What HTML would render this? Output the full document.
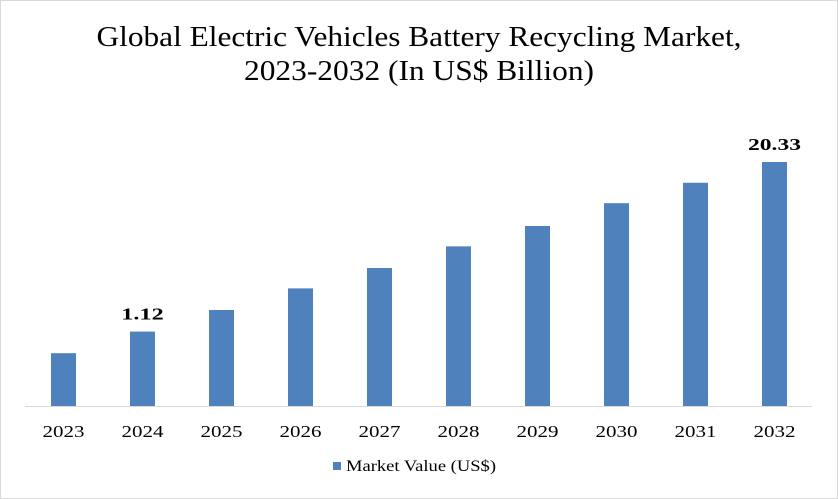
<!DOCTYPE html>
<html><head><meta charset="utf-8"><style>
html,body{margin:0;padding:0;background:#fff}
svg{display:block}
</style></head><body>
<svg width="838" height="499" viewBox="0 0 838 499" xmlns="http://www.w3.org/2000/svg">
<rect x="0.5" y="0.5" width="837" height="498" fill="#fff" stroke="#d9d9d9"/>
<text x="419" y="46" text-anchor="middle" font-family="Liberation Serif, serif" font-size="28" fill="#000" textLength="645" lengthAdjust="spacingAndGlyphs">Global Electric Vehicles Battery Recycling Market,</text>
<text x="419" y="80" text-anchor="middle" font-family="Liberation Serif, serif" font-size="28" fill="#000" textLength="350" lengthAdjust="spacingAndGlyphs">2023-2032 (In US$ Billion)</text>
<line x1="25" y1="406.5" x2="812" y2="406.5" stroke="#d9d9d9" stroke-width="1"/>
<g id="bars"></g>
<rect x="333" y="462" width="8" height="8" fill="#4f81bd"/>
<text x="346" y="471" font-family="Liberation Serif, serif" font-size="16" fill="#000" textLength="150" lengthAdjust="spacingAndGlyphs">Market Value (US$)</text>
</svg>
<script>
const categories = ["2023","2024","2025","2026","2027","2028","2029","2030","2031","2032"];
const values = [4.4, 6.2, 8.0, 9.8, 11.5, 13.3, 15.0, 16.9, 18.6, 20.33];
const valueLabels = ["", "1.12", "", "", "", "", "", "", "", "20.33"];
const g = document.getElementById('bars');
const NS = "http://www.w3.org/2000/svg";
const baseY = 406, plotH = 244, maxV = 20.33;
const x0 = 63.5, step = 79, bw = 25;
function xScale(i){ return x0 + i*step; }
function yScale(v){ return baseY - v/maxV*plotH; }
categories.forEach((c,i)=>{
  const cx = xScale(i), y = yScale(values[i]);
  const r = document.createElementNS(NS,'rect');
  r.setAttribute('x', cx-bw/2); r.setAttribute('y', y);
  r.setAttribute('width', bw); r.setAttribute('height', baseY-y);
  r.setAttribute('fill', '#4f81bd');
  
  
  g.appendChild(r);
  const t = document.createElementNS(NS,'text');
  t.setAttribute('x', cx); t.setAttribute('y', 437);
  t.setAttribute('text-anchor','middle');
  t.setAttribute('font-family','Liberation Serif, serif');
  t.setAttribute('font-size','17');
  t.setAttribute('textLength','42');
  t.setAttribute('lengthAdjust','spacingAndGlyphs');
  t.textContent = c;
  
  
  g.appendChild(t);
  if(valueLabels[i]){
    const l = document.createElementNS(NS,'text');
    l.setAttribute('x', cx); l.setAttribute('y', y-12);
    l.setAttribute('text-anchor','middle');
    l.setAttribute('font-family','Liberation Serif, serif');
    l.setAttribute('font-size','17'); l.setAttribute('font-weight','bold');
    l.setAttribute('textLength', String(valueLabels[i].length*10.6));
    l.setAttribute('lengthAdjust','spacingAndGlyphs');
    l.textContent = valueLabels[i];
    
    
    g.appendChild(l);
  }
});
</script>
</body></html>
